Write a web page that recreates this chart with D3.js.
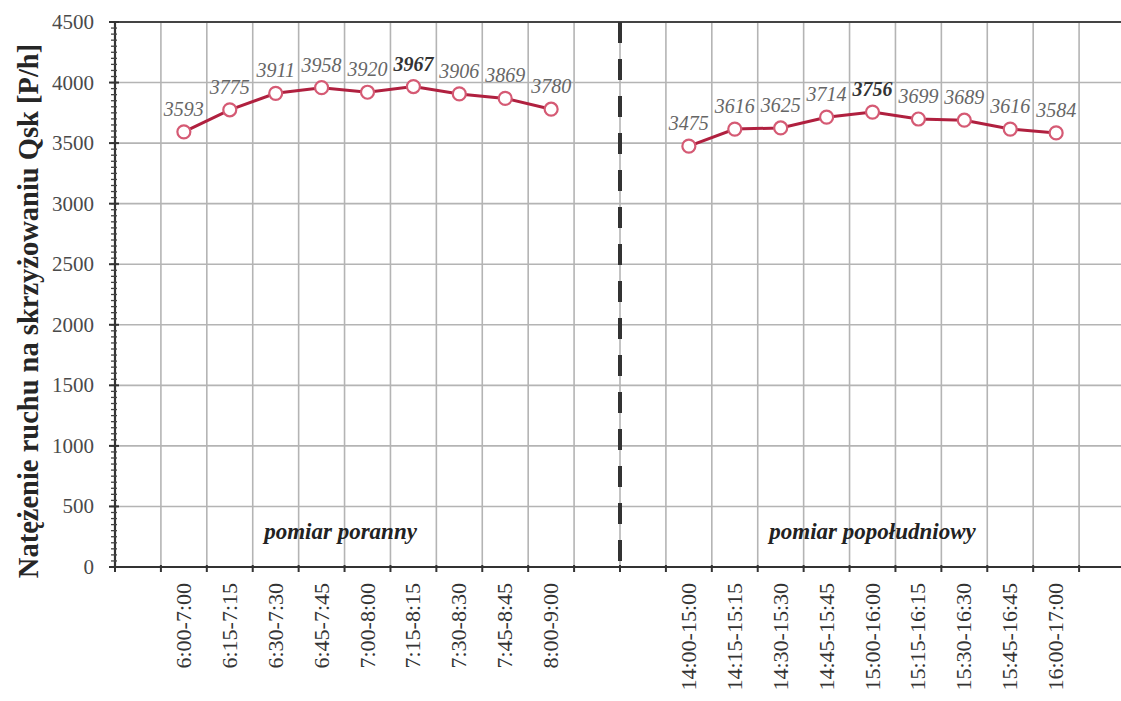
<!DOCTYPE html>
<html>
<head>
<meta charset="utf-8">
<script src="https://cdn.jsdelivr.net/npm/d3@7"></script>
<style>
  body { margin: 0; background: #fff; }
  text { font-family: "Liberation Serif", "Times New Roman", serif; }
</style>
</head>
<body>
<script>
var width = 1121,
    height = 701;

// data
var morningLabels = ["6:00-7:00", "6:15-7:15", "6:30-7:30", "6:45-7:45", "7:00-8:00",
                     "7:15-8:15", "7:30-8:30", "7:45-8:45", "8:00-9:00"];
var morningValues = [3593, 3775, 3911, 3958, 3920, 3967, 3906, 3869, 3780];

var afternoonLabels = ["14:00-15:00", "14:15-15:15", "14:30-15:30", "14:45-15:45", "15:00-16:00",
                       "15:15-16:15", "15:30-16:30", "15:45-16:45", "16:00-17:00"];
var afternoonValues = [3475, 3616, 3625, 3714, 3756, 3699, 3689, 3616, 3584];

var yTicks = [0, 500, 1000, 1500, 2000, 2500, 3000, 3500, 4000, 4500];

var yTitle = "Natężenie ruchu na skrzyżowaniu Qsk [P/h]";
var morningName = "pomiar poranny";
var afternoonName = "pomiar popołudniowy";

// empty slots around the two groups, like the original category axis
var domain = ["_a"].concat(morningLabels, ["_b", "_c"], afternoonLabels, ["_d"]);

// plot box (note: "top" is taken by window.top)
var plotL = 115, plotR = 1125, plotT = 22, plotB = 567;

var svg = d3.select("body").append("svg")
    .attr("width", width)
    .attr("height", height);

var x = d3.scaleBand()
    .domain(domain)
    .range([plotL, plotR])
    .padding(0);

var y = d3.scaleLinear()
    .domain([0, 4500])
    .range([plotB, plotT]);

var gridColor = "#b4b4b4";

// horizontal grid
svg.append("g").selectAll("line")
    .data(yTicks.slice(1))
    .enter().append("line")
    .attr("x1", plotL).attr("x2", plotR)
    .attr("y1", function(d){ return y(d); })
    .attr("y2", function(d){ return y(d); })
    .attr("stroke", gridColor)
    .attr("stroke-width", 1.6);

// vertical grid at category boundaries
var bounds = domain.map(function(d){ return x(d); }).slice(1);
svg.append("g").selectAll("line")
    .data(bounds)
    .enter().append("line")
    .attr("x1", function(d){ return d; })
    .attr("x2", function(d){ return d; })
    .attr("y1", plotT).attr("y2", plotB)
    .attr("stroke", gridColor)
    .attr("stroke-width", 1.6);

// frame: top, left and bottom
svg.append("line")
    .attr("x1", plotL).attr("x2", plotR)
    .attr("y1", plotT).attr("y2", plotT)
    .attr("stroke", "#444").attr("stroke-width", 2.2);
svg.append("line")
    .attr("x1", plotL).attr("x2", plotL)
    .attr("y1", plotT).attr("y2", plotB)
    .attr("stroke", "#333").attr("stroke-width", 2.2);
svg.append("line")
    .attr("x1", plotL).attr("x2", plotR)
    .attr("y1", plotB).attr("y2", plotB)
    .attr("stroke", "#333").attr("stroke-width", 2.2);

// y ticks, major and minor
var minor = d3.range(0, 4501, 50);
svg.append("g").selectAll("line")
    .data(minor)
    .enter().append("line")
    .attr("x1", plotL - 4).attr("x2", plotL + 2)
    .attr("y1", function(d){ return y(d); })
    .attr("y2", function(d){ return y(d); })
    .attr("stroke", "#444").attr("stroke-width", 1.3);
svg.append("g").selectAll("line")
    .data(yTicks)
    .enter().append("line")
    .attr("x1", plotL - 6).attr("x2", plotL + 4)
    .attr("y1", function(d){ return y(d); })
    .attr("y2", function(d){ return y(d); })
    .attr("stroke", "#333").attr("stroke-width", 2);

svg.append("g").selectAll("text")
    .data(yTicks)
    .enter().append("text")
    .attr("x", 94)
    .attr("y", function(d){ return y(d) + 7; })
    .attr("text-anchor", "end")
    .attr("font-size", 21)
    .attr("fill", "#4a4a4a")
    .text(function(d){ return d; });

// x ticks
svg.append("g").selectAll("line")
    .data([plotL].concat(bounds))
    .enter().append("line")
    .attr("x1", function(d){ return d; })
    .attr("x2", function(d){ return d; })
    .attr("y1", plotB - 2).attr("y2", plotB + 5)
    .attr("stroke", "#333").attr("stroke-width", 2);

// x labels, rotated
var allLabels = morningLabels.concat(afternoonLabels);
svg.append("g").selectAll("text")
    .data(allLabels)
    .enter().append("text")
    .attr("transform", function(d){
      return "translate(" + (x(d) + x.bandwidth() / 2 + 7) + "," + 583 + ") rotate(-90)";
    })
    .attr("text-anchor", "end")
    .attr("font-size", 22)
    .attr("fill", "#333")
    .text(function(d){ return d; });

// y title
svg.append("text")
    .attr("transform", "translate(38," + 311 + ") rotate(-90)")
    .attr("text-anchor", "middle")
    .attr("font-size", 28.5)
    .attr("font-weight", "bold")
    .attr("fill", "#262626")
    .text(yTitle);

// dashed divider between the two measurements
var divX = x("_c");
svg.append("line")
    .attr("x1", divX).attr("x2", divX)
    .attr("y1", plotT).attr("y2", plotB)
    .attr("stroke", "#333")
    .attr("stroke-width", 4)
    .attr("stroke-dasharray", "21,16");

// group names (the morning one sits a bit left of its group in the original)
svg.append("text")
    .attr("x", x(morningLabels[4]) - 4)
    .attr("y", 539)
    .attr("text-anchor", "middle")
    .attr("font-size", 23)
    .attr("font-weight", "bold")
    .attr("font-style", "italic")
    .attr("fill", "#222")
    .text(morningName);
svg.append("text")
    .attr("x", (x(afternoonLabels[0]) + x(afternoonLabels[8]) + x.bandwidth()) / 2)
    .attr("y", 539)
    .attr("text-anchor", "middle")
    .attr("font-size", 23)
    .attr("font-weight", "bold")
    .attr("font-style", "italic")
    .attr("fill", "#222")
    .text(afternoonName);

// series
var line = d3.line()
    .x(function(d){ return x(d.label) + x.bandwidth() / 2; })
    .y(function(d){ return y(d.value); });

function drawSeries(labels, values) {
  var pts = labels.map(function(l, i){ return {label: l, value: values[i]}; });
  var peak = d3.max(values);

  svg.append("path")
    .datum(pts)
    .attr("d", line)
    .attr("fill", "none")
    .attr("stroke", "#b0203f")
    .attr("stroke-width", 3);

  svg.append("g").selectAll("circle")
    .data(pts)
    .enter().append("circle")
    .attr("cx", function(d){ return x(d.label) + x.bandwidth() / 2; })
    .attr("cy", function(d){ return y(d.value); })
    .attr("r", 6.5)
    .attr("fill", "#fff")
    .attr("stroke", "#d55a74")
    .attr("stroke-width", 2.2);

  svg.append("g").selectAll("text")
    .data(pts)
    .enter().append("text")
    .attr("x", function(d){ return x(d.label) + x.bandwidth() / 2; })
    .attr("y", function(d){ return y(d.value) - 16; })
    .attr("text-anchor", "middle")
    .attr("font-size", 20)
    .attr("font-style", "italic")
    .attr("font-weight", function(d){ return d.value === peak ? "bold" : "normal"; })
    .attr("fill", function(d){ return d.value === peak ? "#333" : "#666"; })
    .text(function(d){ return d.value; });
}

drawSeries(morningLabels, morningValues);
drawSeries(afternoonLabels, afternoonValues);
</script>
</body>
</html>
